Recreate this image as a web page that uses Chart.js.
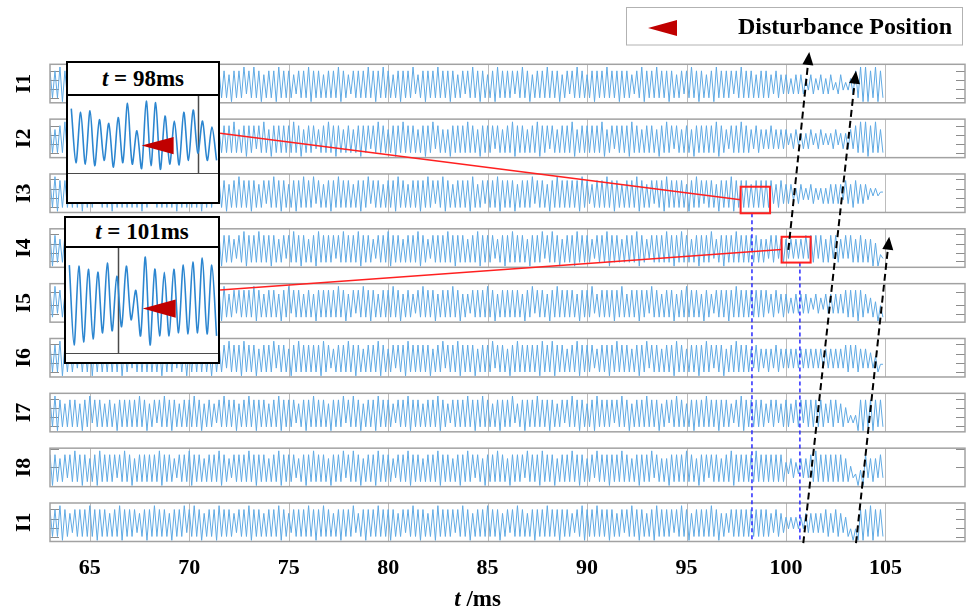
<!DOCTYPE html>
<html>
<head>
<meta charset="utf-8">
<script src="https://cdn.jsdelivr.net/npm/chart.js@4"></script>
<style>
  html, body { margin: 0; padding: 0; background: #fff; }
  #stage { position: relative; width: 975px; height: 613px; overflow: hidden; }
  #main { position: absolute; left: 0; top: 0; }
  .inset { position: absolute; box-sizing: border-box; border: 2px solid #000; background: #fff;
           display: flex; flex-direction: column; }
  .inset .head { box-sizing: border-box; border-bottom: 2px solid #000; display: flex;
                 align-items: center; justify-content: center;
                 font: bold 23px 'Liberation Serif', 'Times New Roman', serif; color: #000; }
  .inset .plot { box-sizing: content-box; border-bottom: 1.5px solid #4a4a4a; position: relative; }
  .inset .plot canvas { display: block; }
</style>
</head>
<body>
<div id="stage">
  <canvas id="main" width="975" height="613"></canvas>
  <div class="inset" style="left:66px; top:61px; width:154px; height:143px;">
    <div class="head" style="height:33px;"><span><i>t</i> = 98ms</span></div>
    <div class="plot" style="height:77px;"><canvas id="inset98" width="150" height="77"></canvas></div>
  </div>
  <div class="inset" style="left:64px; top:216px; width:156px; height:148px;">
    <div class="head" style="height:30px;"><span><i>t</i> = 101ms</span></div>
    <div class="plot" style="height:105px;"><canvas id="inset101" width="152" height="105"></canvas></div>
  </div>
</div>
<script>
// ---- channel labels and time axis ----
const panelLabels = ['I1', 'I2', 'I3', 'I4', 'I5', 'I6', 'I7', 'I8', 'I1'];
const xTickValues = [65, 70, 75, 80, 85, 90, 95, 100, 105];
const sampleStartMs = 63;     // first recorded cycle
const cyclePeriodMs = 0.25;   // one oscillation period

// ---- per-cycle peak and trough levels (0 = strip floor, 9 = strip ceiling) ----
// one digit per cycle, grouped by millisecond (4 cycles per group), 63 ms .. 105 ms
const I1a_peaks = `
  8898 8788 9887 8898 7888  9888 7898 8878 8988 7889  8987 8898 8788 9887 8898
  7888 9889 8788 8978 8898  8878 8988 7898 8889 8788  9887 8898 7888 9888 8789
  8898 8878 8988 7898 8889  8878 8787 7677 6767 6757  5689 9898`;
const I1a_troughs = `
  1101 1211 0111 1101 2111  1011 1101 1210 1111 0112  1101 1011 1211 0111 1101
  2111 1011 1101 1210 1111  0112 1101 1011 1211 0111  1101 2111 1011 1101 1210
  1111 0112 1101 1011 1211  1111 1212 2222 3232 2323  3210 0101`;

const I2_peaks = `
  8789 8878 8987 7888 9878  8887 8988 7898 8878 8978  8889 7888 8987 8878 9887
  8788 8898 7889 8878 8987  7888 9878 8887 8988 7898  8878 8978 8889 7888 8987
  8878 9887 8788 8898 7889  8787 7877 7676 6767 6676  6789 9897`;
const I2_troughs = `
  1110 1211 0111 1101 1211  1011 1101 2111 1011 1110  1211 0111 1101 1211 1011
  1101 2111 1011 1110 1211  0111 1101 1211 1011 1101  2111 1011 1110 1211 0111
  1101 1211 1011 1101 2111  1212 2222 3232 2323 3232  2211 0111`;

const I3_peaks = `
  8988 7898 8878 8898 8788  9887 8898 7888 9888 7898  8878 8988 7889 8987 8898
  8788 9887 8898 7888 9889  8788 8978 8898 8878 8988  7898 8889 8788 9887 8898
  7888 9888 7898 8878 8988  8788 8878 7767 6766 6777  8787 7665`;
const I3_troughs = `
  1011 1101 1211 0111 1101  2111 1011 1101 1210 1111  0112 1101 1011 1211 0111
  1101 2111 1011 1101 1210  1111 0112 1101 1011 1211  0111 1101 2111 1011 1101
  1210 1111 0112 1101 1011  1111 1212 2323 3232 2223  2122 3445`;

const I4_peaks = `
  8878 8988 7898 8889 8788  9887 8898 7888 9888 8789  8898 8878 8988 7898 8889
  8898 8788 9887 8898 7888  9888 7898 8878 8988 7889  8987 8898 8788 9887 8898
  7888 9889 8788 8978 8898  8887 7887 7777 8888 7887  8878 7763`;
const I4_troughs = `
  0112 1101 1011 1211 0111  1101 2111 1011 1101 1210  1111 0112 1101 1011 1211
  1101 1211 0111 1101 2111  1011 1101 1210 1111 0112  1101 1011 1211 0111 1101
  2111 1011 1101 1210 1111  1111 2121 2222 2121 1212  2111 1002`;

const I5_peaks = `
  8987 7888 9878 8887 8988  7898 8878 8978 8889 7888  8987 8878 9887 8788 8898
  7889 8878 8987 8789 8878  8987 7888 9878 8887 8988  7898 8878 8978 8889 7888
  8987 8878 9887 8788 8898  8888 8787 7677 7676 7777  8888 7654`;
const I5_troughs = `
  1211 0111 1101 2111 1011  1110 1211 0111 1101 1211  1011 1101 2111 1011 1110
  1211 0111 1101 1211 1011  1101 2111 1011 1110 1211  0111 1101 1211 1011 1101
  2111 1011 1110 1211 0111  1111 2121 2222 2323 2222  1101 2101`;

const I6_peaks = `
  8898 8788 9887 8898 7888  8788 9887 8898 7888 9889  8878 8988 7898 8889 8788
  9887 8898 7888 9888 8789  8898 8878 8988 7898 8889  8988 7898 8878 8898 8788
  9887 8898 7888 9888 7898  8787 7787 7777 7777 7777  8887 7653`;
const I6_troughs = `
  1101 1211 0111 1101 2111  1101 1210 1111 0112 1101  1011 1211 0111 1101 2111
  1011 1101 1210 1111 0112  1101 1011 1211 0111 1101  1011 1101 1211 0111 1101
  2111 1011 1101 1210 1111  1212 1212 2222 2222 2222  1212 2213`;

const I7_peaks = `
  8987 8878 9887 8788 8898  7889 8878 8987 8789 8878  9888 7898 8878 8988 7889
  8987 8898 8788 9887 8898  7888 9889 8788 8978 8898  8878 8988 7898 8889 8788
  9887 8898 7888 9888 8789  8888 7887 8788 8888 7887  6448 8888`;
const I7_troughs = `
  1011 1101 2111 1011 1110  1211 0111 1101 1211 1011  1011 1101 1210 1111 0112
  1101 1011 1211 0111 1101  2111 1011 1101 1210 1111  0112 1101 1011 1211 0111
  1101 2111 1011 1101 1210  1111 2121 1212 1111 2121  2200 1011`;

const I8_peaks = `
  8878 8988 7898 8889 8788  8898 8788 9887 8898 7888  9888 7898 8878 8988 7889
  8987 8898 8788 9887 8898  8788 9887 8898 7888 9889  8878 8988 7898 8889 8788
  8987 7888 9878 8887 8988  8898 8888 6767 7898 8888  7534 8778`;
const I8_troughs = `
  0112 1101 1011 1211 0111  1101 1211 0111 1101 2111  1011 1101 1210 1111 0112
  1101 1011 1211 0111 1101  1101 1210 1111 0112 1101  1011 1101 1211 0111 1101
  1211 0111 1101 2111 1011  1111 1111 3232 2111 1111  1200 2122`;

const I1b_peaks = `
  8898 7888 9888 7898 8878  8988 7889 8987 8898 8788  9887 8898 7888 9889 8788
  8978 8898 8878 8988 7898  8889 8788 9887 8898 7888  9888 8789 8898 8878 8988
  7898 8889 8788 8987 7888  8888 8787 6666 7777 8787  6338 8988`;
const I1b_troughs = `
  1101 2111 1011 1101 1210  1111 0112 1101 1011 1211  0111 1101 2111 1011 1101
  1210 1111 0112 1101 1011  1211 0111 1101 2111 1011  1101 1210 1111 0112 1101
  1011 1211 0111 1101 2111  1111 1212 3333 2222 1212  1000 1011`;

const peakSeries   = [I1a_peaks, I2_peaks, I3_peaks, I4_peaks, I5_peaks, I6_peaks, I7_peaks, I8_peaks, I1b_peaks];
const troughSeries = [I1a_troughs, I2_troughs, I3_troughs, I4_troughs, I5_troughs, I6_troughs, I7_troughs, I8_troughs, I1b_troughs];

// ---- zoomed windows (peak / trough per cycle, 0..10 of the window height) ----
const zoom98_peaks    = [8.5, 8.0, 8.2, 7.0, 6.5, 7.3, 9.2, 5.5, 9.5, 9.3, 7.5, 6.8, 8.0, 8.3, 6.8, 6.0];
const zoom98_troughs  = [1.2, 1.0, 0.8, 1.5, 0.6, 1.2, 1.0, 0.4, 0.8, 0.3, 1.0, 0.9, 1.5, 2.5, 1.5, 1.5];
const zoom101_peaks   = [8.5, 8.4, 8.1, 7.8, 8.7, 7.4, 8.4, 6.0, 9.3, 8.1, 7.8, 8.1, 8.5, 8.8, 9.2, 8.5];
const zoom101_troughs = [0.6, 0.9, 1.2, 1.8, 2.0, 2.4, 3.1, 1.5, 0.6, 1.5, 1.5, 1.8, 1.7, 1.8, 1.7, 1.5];

// ---- annotation geometry (x in ms, y in strip-height units from the top strip) ----
const GAP = 0.4244;                       // blank space between strips, in strip heights
const Y_MAX = panelLabels.length + (panelLabels.length - 1) * GAP;
const zoomBoxes = [
  { x0: 97.72, x1: 99.20, y0: 3.18, y1: 3.87 },
  { x0: 99.78, x1: 101.24, y0: 4.48, y1: 5.15 }
];
const leaderLines = [
  { from: [71.55, 1.79], to: [97.72, 3.52] },
  { from: [71.55, 5.86], to: [99.78, 4.81] }
];
const instantLines = [
  { x: 98.29, y0: 3.87, y1: Y_MAX },
  { x: 100.70, y0: 5.15, y1: Y_MAX }
];
const travelArrows = [
  { from: [100.12, 4.82], to: [101.17, -0.32] },
  { from: [100.87, 12.44], to: [103.52, 0.166] },
  { from: [103.52, 12.44], to: [105.19, 4.48] }
];
const tickFracs = [
  [0.17, 0.41, 0.65, 0.88], [0.18, 0.42, 0.65, 0.88], [0.12, 0.38, 0.62, 0.87],
  [0.13, 0.39, 0.62, 0.84], [0.22, 0.55, 0.79], [0.15, 0.40, 0.64, 0.88],
  [0.14, 0.38, 0.61, 0.84], [0.03, 0.49], [0.16, 0.41, 0.64, 0.89]
];

const SERIF = "'Liberation Serif', 'Times New Roman', serif";
const WAVE_COLOR = 'rgb(96,170,228)';
const MARK_RED = '#c00000';

function levels(s) { return s.replace(/\s+/g, '').split('').map(Number); }
function panelTop(k) { return k * (1 + GAP); }
function levelToY(k, d) { return panelTop(k) + 1 - (0.03 + d * 0.1); }

const datasets = panelLabels.map((lab, k) => {
  const p = levels(peakSeries[k]);
  const t = levels(troughSeries[k]);
  const pts = [];
  for (let i = 0; i < p.length; i++) {
    const tm = sampleStartMs + i * cyclePeriodMs;
    pts.push({ x: tm, y: levelToY(k, p[i]) });
    pts.push({ x: tm + cyclePeriodMs / 2, y: levelToY(k, t[i]) });
  }
  return { label: lab, data: pts, borderColor: WAVE_COLOR, borderWidth: 1, pointRadius: 0, tension: 0, fill: false };
});

function drawArrow(ctx, x0, y0, x1, y1, color) {
  const ang = Math.atan2(y1 - y0, x1 - x0);
  const len = 13, half = 5.5;
  const bx = x1 - len * Math.cos(ang), by = y1 - len * Math.sin(ang);
  ctx.save();
  ctx.strokeStyle = color; ctx.lineWidth = 2; ctx.setLineDash([7, 4]);
  ctx.beginPath(); ctx.moveTo(x0, y0); ctx.lineTo(bx, by); ctx.stroke();
  ctx.setLineDash([]);
  ctx.fillStyle = color;
  ctx.beginPath();
  ctx.moveTo(x1, y1);
  ctx.lineTo(bx + half * Math.sin(ang), by - half * Math.cos(ang));
  ctx.lineTo(bx - half * Math.sin(ang), by + half * Math.cos(ang));
  ctx.closePath(); ctx.fill();
  ctx.restore();
}

function leftTriangle(ctx, tipX, tipY, length, half, color) {
  ctx.save();
  ctx.fillStyle = color;
  ctx.beginPath();
  ctx.moveTo(tipX, tipY);
  ctx.lineTo(tipX + length, tipY - half);
  ctx.lineTo(tipX + length, tipY + half);
  ctx.closePath(); ctx.fill();
  ctx.restore();
}

const stripPlugin = {
  id: 'strips',
  beforeDatasetsDraw(chart) {
    const { ctx, chartArea: a, scales: { x, y } } = chart;
    ctx.save();
    for (let k = 0; k < panelLabels.length; k++) {
      const top = y.getPixelForValue(panelTop(k));
      const bot = y.getPixelForValue(panelTop(k) + 1);
      ctx.strokeStyle = '#bcbcbc'; ctx.lineWidth = 1;
      xTickValues.forEach(v => {
        const px = Math.round(x.getPixelForValue(v)) + 0.5;
        ctx.beginPath(); ctx.moveTo(px, top); ctx.lineTo(px, bot); ctx.stroke();
      });
      ctx.strokeStyle = '#8c8c8c';
      tickFracs[k].forEach(f => {
        const py = Math.round(top + f * (bot - top)) + 0.5;
        ctx.beginPath(); ctx.moveTo(a.left, py); ctx.lineTo(a.left + 9, py); ctx.stroke();
        ctx.beginPath(); ctx.moveTo(a.right - 9, py); ctx.lineTo(a.right, py); ctx.stroke();
      });
    }
    ctx.restore();
  },
  afterDatasetsDraw(chart) {
    const { ctx, chartArea: a, scales: { y } } = chart;
    ctx.save();
    ctx.strokeStyle = '#a2a2a2'; ctx.lineWidth = 1.5;
    for (let k = 0; k < panelLabels.length; k++) {
      const top = y.getPixelForValue(panelTop(k));
      const bot = y.getPixelForValue(panelTop(k) + 1);
      ctx.strokeRect(a.left, top, a.right - a.left, bot - top);
    }
    ctx.restore();
  },
  afterDraw(chart) {
    const { ctx, scales: { x, y } } = chart;
    const P = (xv, yv) => [x.getPixelForValue(xv), y.getPixelForValue(yv)];
    ctx.save();

    // instants of the two zoomed windows
    ctx.strokeStyle = '#2a2aff'; ctx.lineWidth = 1.5; ctx.setLineDash([4, 3]);
    instantLines.forEach(l => {
      const [px, p0] = P(l.x, l.y0); const [, p1] = P(l.x, l.y1);
      ctx.beginPath(); ctx.moveTo(px, p0); ctx.lineTo(px, p1); ctx.stroke();
    });
    ctx.setLineDash([]);

    // leader lines from the zoomed windows
    ctx.strokeStyle = '#ff2020'; ctx.lineWidth = 1.5;
    leaderLines.forEach(l => {
      const [ax, ay] = P(...l.from); const [bx, by] = P(...l.to);
      ctx.beginPath(); ctx.moveTo(ax, ay); ctx.lineTo(bx, by); ctx.stroke();
    });
    ctx.lineWidth = 2;
    zoomBoxes.forEach(b => {
      const [ax, ay] = P(b.x0, b.y0); const [bx, by] = P(b.x1, b.y1);
      ctx.strokeRect(ax, ay, bx - ax, by - ay);
    });

    // disturbance travel paths
    travelArrows.forEach(r => {
      const [ax, ay] = P(...r.from); const [bx, by] = P(...r.to);
      drawArrow(ctx, ax, ay, bx, by, '#000');
    });

    // strip labels
    ctx.fillStyle = '#000';
    ctx.font = 'bold 22px ' + SERIF;
    ctx.textAlign = 'center'; ctx.textBaseline = 'middle';
    panelLabels.forEach((lab, k) => {
      const cy = y.getPixelForValue(panelTop(k) + 0.5);
      ctx.save(); ctx.translate(23, cy); ctx.rotate(-Math.PI / 2);
      ctx.fillText(lab, 0, 1); ctx.restore();
    });

    // axis title: t /ms
    ctx.textBaseline = 'alphabetic'; ctx.textAlign = 'left';
    const fI = 'italic bold 23px ' + SERIF, fB = 'bold 23px ' + SERIF;
    ctx.font = fI; const wT = ctx.measureText('t').width;
    ctx.font = fB; const wR = ctx.measureText(' /ms').width;
    const tx = x.getPixelForValue(84.5) - (wT + wR) / 2;
    ctx.font = fI; ctx.fillText('t', tx, 606);
    ctx.font = fB; ctx.fillText(' /ms', tx + wT, 606);

    // legend
    ctx.fillStyle = '#fff'; ctx.fillRect(626, 7.5, 336, 37.5);
    ctx.strokeStyle = '#b2b2b2'; ctx.lineWidth = 1;
    ctx.strokeRect(626.5, 7.5, 336, 37.5);
    leftTriangle(ctx, 648, 28, 29, 8, MARK_RED);
    ctx.fillStyle = '#000'; ctx.font = 'bold 24px ' + SERIF;
    ctx.textAlign = 'right'; ctx.textBaseline = 'middle';
    ctx.fillText('Disturbance Position', 952, 28);
    ctx.restore();
  }
};

new Chart(document.getElementById('main'), {
  type: 'line',
  data: { datasets },
  options: {
    responsive: false,
    animation: false,
    events: [],
    layout: { padding: { left: 50, right: 10, top: 64.3, bottom: 0 } },
    plugins: { legend: { display: false }, tooltip: { enabled: false } },
    scales: {
      x: {
        type: 'linear', min: 63, max: 109,
        grid: { display: false }, border: { display: false },
        afterBuildTicks: s => { s.ticks = xTickValues.map(v => ({ value: v })); },
        afterFit: s => { s.height = 71.5; },
        ticks: { color: '#000', padding: 6, maxRotation: 0, autoSkip: false,
                 font: { family: SERIF, size: 22, weight: 'bold' },
                 callback: v => String(v) }
      },
      y: { type: 'linear', display: false, min: 0, max: Y_MAX, reverse: true }
    }
  },
  plugins: [stripPlugin]
});

// ---- zoomed windows ----
function zoomWindow(id, peaks, troughs, gridAt, tip, tri) {
  const pts = [];
  peaks.forEach((p, i) => {
    pts.push({ x: i + 0.35, y: p });
    pts.push({ x: i + 0.85, y: troughs[i] });
  });
  const windowPlugin = {
    id: 'win' + id,
    beforeDatasetsDraw(chart) {
      const { ctx, chartArea: a, scales: { x } } = chart;
      const px = Math.round(x.getPixelForValue(gridAt)) + 0.5;
      ctx.save(); ctx.strokeStyle = '#4a4a4a'; ctx.lineWidth = 1.5;
      ctx.beginPath(); ctx.moveTo(px, a.top); ctx.lineTo(px, a.bottom); ctx.stroke();
      ctx.restore();
    },
    afterDatasetsDraw(chart) {
      const { ctx, scales: { x, y } } = chart;
      leftTriangle(ctx, x.getPixelForValue(tip[0]), y.getPixelForValue(tip[1]), tri[0], tri[1], MARK_RED);
    }
  };
  new Chart(document.getElementById(id), {
    type: 'line',
    data: { datasets: [{ data: pts, borderColor: 'rgb(44,134,208)', borderWidth: 1.6, pointRadius: 0, tension: 0.3 }] },
    options: {
      responsive: false, animation: false, events: [],
      layout: { padding: 0 },
      plugins: { legend: { display: false }, tooltip: { enabled: false } },
      scales: {
        x: { type: 'linear', display: false, min: 0, max: 16 },
        y: { type: 'linear', display: false, min: -0.2, max: 10.2 }
      }
    },
    plugins: [windowPlugin]
  });
}
zoomWindow('inset98', zoom98_peaks, zoom98_troughs, 13.9, [7.85, 3.5], [32, 8.7]);
zoomWindow('inset101', zoom101_peaks, zoom101_troughs, 5.5, [8.07, 4.2], [33, 9.2]);
</script>
</body>
</html>
